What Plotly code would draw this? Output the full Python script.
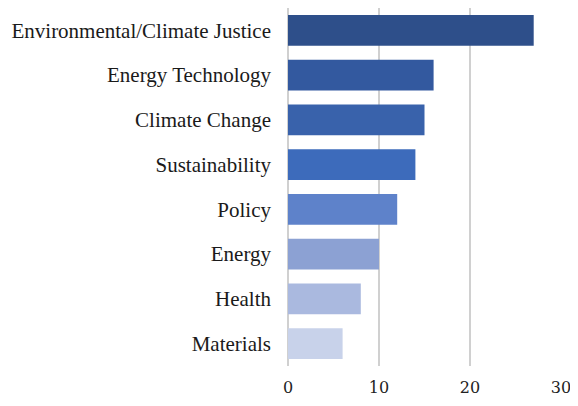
import plotly.graph_objects as go

categories = ["Environmental/Climate Justice", "Energy Technology", "Climate Change",
              "Sustainability", "Policy", "Energy", "Health", "Materials"]
values = [27, 16, 15, 14, 12, 10, 8, 6]
colors = ["#2E4F8A", "#33599F", "#3962AB", "#3D6BBB", "#5E82CA", "#8CA1D3", "#AAB9DF", "#C8D2EA"]

fig = go.Figure(go.Bar(
    x=values, y=categories, orientation="h",
    marker=dict(color=colors, line=dict(width=0)),
    width=0.69,
))
fig.update_layout(
    width=570, height=398,
    margin=dict(l=280, r=17, t=0, b=40, autoexpand=False),
    paper_bgcolor="white", plot_bgcolor="white",
    font=dict(family="Liberation Serif", size=21, color="#1A1A1A"),
    showlegend=False,
)
fig.update_xaxes(range=[0, 30], tickvals=[0, 10, 20, 30], showgrid=True, automargin=False,
                 gridcolor="#D0D0D0", gridwidth=2, zeroline=True, zerolinecolor="#D0D0D0",
                 zerolinewidth=2, showline=False, ticks="", ticklen=0, ticklabelstandoff=10,
                 tickfont=dict(family="DejaVu Serif", size=16, color="#222222"))
fig.update_yaxes(autorange="reversed", showgrid=False, zeroline=False, showline=False,
                 automargin=False, ticks="", ticklabelstandoff=16)
fig.write_html("out.html")
